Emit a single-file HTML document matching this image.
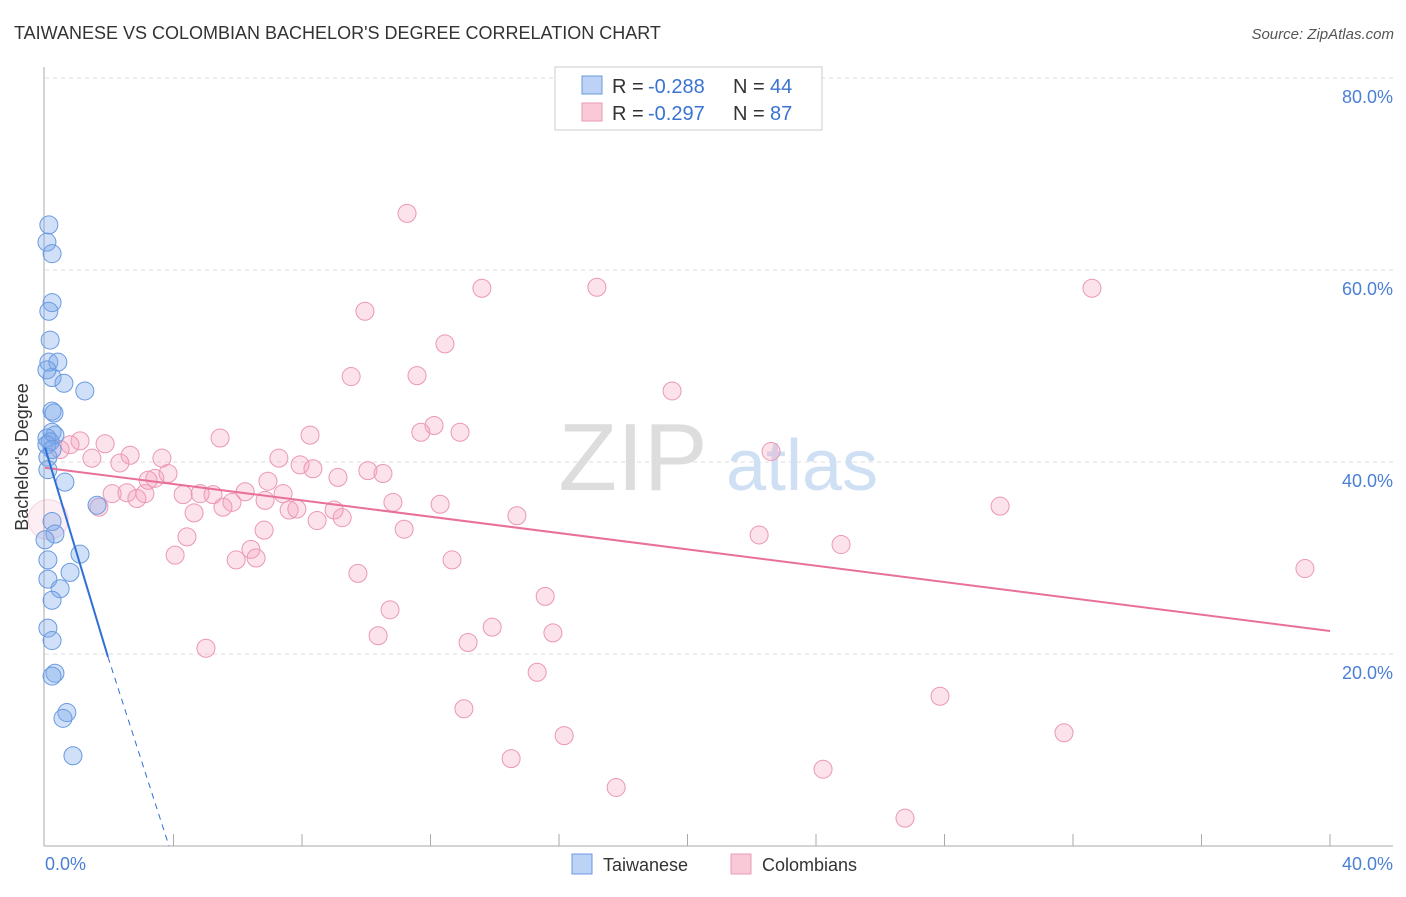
<!DOCTYPE html>
<html><head><meta charset="utf-8"><style>
body{margin:0;background:#fff;font-family:"Liberation Sans",sans-serif}
svg text{font-family:"Liberation Sans",sans-serif}
</style></head><body>
<svg id="c" width="1406" height="892" xmlns="http://www.w3.org/2000/svg">
<text x="14" y="39" font-size="18" fill="#333">TAIWANESE VS COLOMBIAN BACHELOR'S DEGREE CORRELATION CHART</text>
<text x="1394" y="39" font-size="15" fill="#555" font-style="italic" text-anchor="end">Source: ZipAtlas.com</text>
<g id="grid"></g>
<g><text x="633" y="490" font-size="96" fill="#ddd" font-family="Liberation Serif,serif" text-anchor="middle">ZIP</text><text x="802" y="490" font-size="72" fill="#cfe0f5" text-anchor="middle">atlas</text></g>
<line x1="44" y1="67" x2="44" y2="846" stroke="#aaa"/>
<line x1="44" y1="846" x2="1393" y2="846" stroke="#aaa"/>
<text x="28" y="457" font-size="18" fill="#333" text-anchor="middle" transform="rotate(-90 28 457)">Bachelor's Degree</text>
<text x="45" y="870" font-size="18" fill="#4a7fd6">0.0%</text>
<text x="1393" y="870" font-size="18" fill="#4a7fd6" text-anchor="end">40.0%</text>
<g id="pts"></g>
<g id="lines"></g>
<g>
<rect x="555" y="67" width="267" height="63" fill="#fff" stroke="#ccc"/>
<rect x="582" y="76" width="20" height="18" fill="#bcd3f5" stroke="#6a9ae0"/>
<rect x="582" y="103" width="20" height="18" fill="#f9c9d8" stroke="#ea9bb5"/>
<text x="612" y="93" font-size="20" fill="#333">R =</text>
<text x="648" y="93" font-size="20" fill="#3a73d1">-0.288</text>
<text x="733" y="93" font-size="20" fill="#333">N =</text>
<text x="770" y="93" font-size="20" fill="#3a73d1">44</text>
<text x="612" y="120" font-size="20" fill="#333">R =</text>
<text x="648" y="120" font-size="20" fill="#3a73d1">-0.297</text>
<text x="733" y="120" font-size="20" fill="#333">N =</text>
<text x="770" y="120" font-size="20" fill="#3a73d1">87</text>
</g>
<g>
<rect x="572" y="854" width="20" height="20" fill="#bcd3f5" stroke="#6a9ae0"/>
<text x="603" y="871" font-size="18" fill="#333">Taiwanese</text>
<rect x="731" y="854" width="20" height="20" fill="#f9c9d8" stroke="#ea9bb5"/>
<text x="762" y="871" font-size="18" fill="#333">Colombians</text>
</g>
</svg>
<script>
const yTicks=[20,40,60,80];
const tw_x=[0.12,0.06,0.22,0.22,0.12,0.16,0.12,0.40,0.22,0.59,1.24,0.22,0.28,0.22,0.31,0.06,0.16,0.09,0.62,1.62,0.22,0.31,1.09,0.09,0.78,0.09,0.47,0.22,0.09,0.22,0.31,0.22,0.68,0.56,0.87,0.09,0.06,0.22,0.0,0.06];
const tw_y=[64.7,62.9,61.7,56.6,55.7,52.7,50.4,50.4,48.8,48.2,47.4,45.3,45.1,43.1,42.8,42.5,42.1,40.5,37.9,35.5,33.8,32.5,30.4,29.8,28.5,27.8,26.8,25.6,22.7,21.4,18.0,17.7,13.9,13.3,9.4,39.2,41.8,41.3,31.9,49.6];
const co_x=[11.27,13.60,17.18,32.59,9.96,12.45,9.53,11.58,19.52,12.11,12.92,11.70,8.25,5.45,22.60,1.87,2.65,3.64,1.09,0.78,0.47,1.46,2.33,3.42,3.83,3.21,7.28,7.94,8.34,9.12,10.05,10.52,6.94,6.23,7.41,2.09,2.55,2.86,3.11,4.30,5.23,4.83,5.82,5.54,4.64,1.68,6.85,7.60,7.84,8.47,9.00,9.25,10.83,12.30,14.69,11.18,6.82,4.42,6.41,6.57,4.05,5.95,12.67,9.74,22.23,24.78,29.73,39.22,15.57,10.74,13.92,15.81,10.37,13.17,5.01,15.32,27.86,13.04,16.16,31.72,14.51,24.22,17.78,26.77,0.1];
const co_y=[65.9,58.1,58.2,58.1,55.7,52.3,48.9,49.0,47.4,43.8,43.1,43.1,42.8,42.5,41.1,41.9,40.7,40.4,42.2,41.8,41.3,40.4,39.9,38.3,38.8,38.1,40.4,39.7,39.3,38.4,39.1,38.8,38.0,36.9,36.7,36.7,36.8,36.2,36.7,36.6,36.6,36.7,35.8,35.3,34.7,35.3,36.0,35.0,35.1,33.9,35.0,34.2,35.8,35.6,34.4,33.0,32.9,32.2,30.9,30.0,30.3,29.8,29.8,28.4,32.4,31.4,35.4,28.9,26.0,24.6,22.8,22.2,21.9,21.2,20.6,18.1,15.6,14.3,11.5,11.8,9.1,8.0,6.1,2.9,34.0];
const tw_trend=[[0,41.5],[1.96,19.7]];
const tw_dash=[[1.96,19.7],[3.86,0]];
const co_trend=[[0,39.4],[40,22.4]];
const NS="http://www.w3.org/2000/svg";
const X=v=>45+v*(1285/40), Y=v=>846-v*9.6;
function mk(t,a,p){const e=document.createElementNS(NS,t);for(const k in a)e.setAttribute(k,a[k]);p.appendChild(e);return e;}
const grid=document.getElementById('grid');
yTicks.forEach(t=>{
 const l=mk('line',{x1:45,x2:1393,y1:Y(t),y2:Y(t),stroke:'#ddd','stroke-dasharray':'4,4'},grid);
 
 
 const tx=mk('text',{x:1393,y:Y(t)+25,'font-size':18,fill:'#4a7fd6','text-anchor':'end'},grid);
 tx.textContent=t.toFixed(1)+'%';
 
 
});
for(let i=1;i<=10;i++){
 const l=mk('line',{x1:X(i*4),x2:X(i*4),y1:834,y2:846,stroke:'#aaa'},grid);
 
 
}
const pts=document.getElementById('pts');
co_x.forEach((v,i)=>{
 const big=i===co_x.length-1;
 const c=mk('circle',{cx:X(v),cy:Y(co_y[i]),r:big?20:9,fill:big?'rgba(244,160,188,0.18)':'rgba(244,160,188,0.3)',stroke:big?'rgba(235,152,179,0.4)':'#eb98b3','stroke-width':1},pts);
 
 
});
tw_x.forEach((v,i)=>{
 const c=mk('circle',{cx:X(v),cy:Y(tw_y[i]),r:9,fill:'rgba(120,165,235,0.35)',stroke:'#6a9ae0','stroke-width':1},pts);
 
 
});
const lines=document.getElementById('lines');
function ln(p,col,w,dash,name){
 const l=mk('line',{x1:X(p[0][0]),y1:Y(p[0][1]),x2:X(p[1][0]),y2:Y(p[1][1]),stroke:col,'stroke-width':w},lines);
 if(dash)l.setAttribute('stroke-dasharray',dash);
 
 
}
ln(co_trend,'#e8709a',2,null,'colombian-trendline');
ln(tw_trend,'#2f6fd6',2,null,'taiwanese-trendline');
ln(tw_dash,'#2f6fd6',1,'6,5','taiwanese-trendline-extension');
</script>
</body></html>
